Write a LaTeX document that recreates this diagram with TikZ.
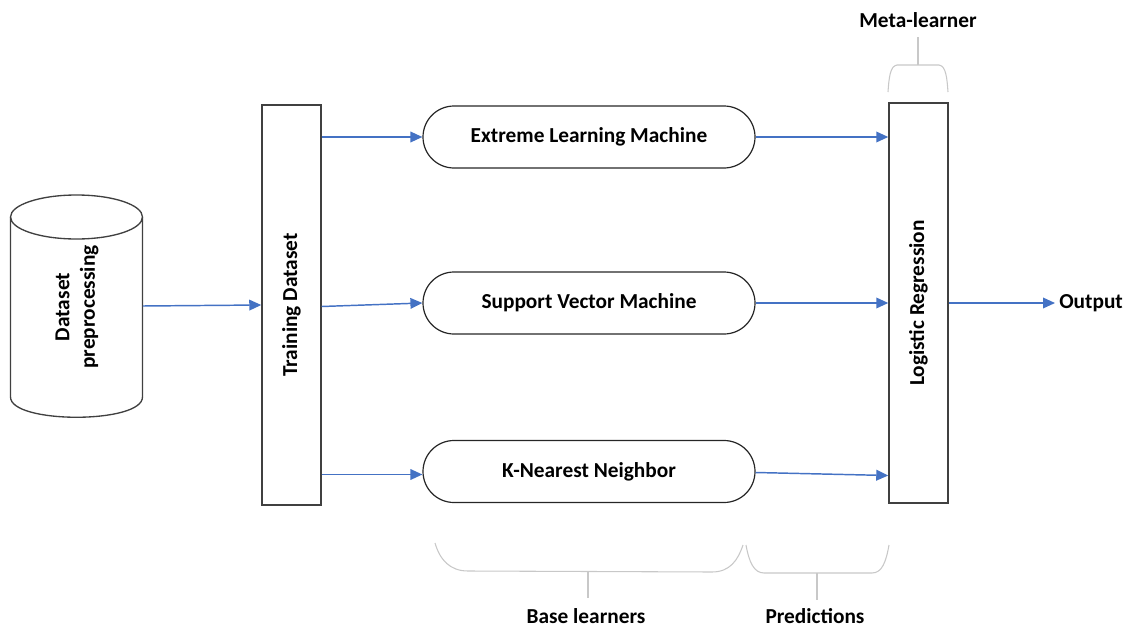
\documentclass[tikz,border=0pt]{standalone}
\usepackage{fontspec}
\setmainfont{Carlito}
\usetikzlibrary{arrows.meta,shapes.misc,calc}
\definecolor{flow}{HTML}{4472C4}
\definecolor{bracegray}{HTML}{C8C8C8}
\definecolor{edge}{HTML}{404040}
\begin{document}
\begin{tikzpicture}[x=0.75pt,y=-0.75pt,
  every node/.style={font=\fontsize{16}{19}\selectfont\bfseries, inner sep=0pt},
  tallbox/.style={draw=edge, line width=1.1pt, fill=white, minimum width=44.25pt, minimum height=300pt},
  learner/.style={draw=black!85, line width=0.9pt, rounded rectangle, minimum width=249pt, minimum height=46.5pt},
  flowarrow/.style={draw=flow, line width=1.1pt, -{Triangle[length=9pt,width=8pt]}},
  drum/.style={draw=edge, line width=1pt},
  bracket/.style={draw=bracegray, line width=0.8pt},
  caption/.style={text=black}]
\useasboundingbox (0,0) rectangle (1129,628);

% storage drum for the preprocessed data (node gives the anchors, paths give the outline)
\node (db) [minimum width=99pt, minimum height=166.5pt] at (76.5,306) {};
\draw[drum] (10.5,217) -- (10.5,397) .. controls (10.5,424) and (142.5,424) .. (142.5,397) -- (142.5,217);
\draw[drum] (76.5,217) ellipse[x radius=66, y radius=22];
\node[rotate=90, align=center] at (77,307) {Dataset\\preprocessing};

% training set and meta-learner columns
\node (tr) [tallbox] at (291.5,305) {};
\node[rotate=90] at (tr) {Training Dataset};
\node (lr) [tallbox] at (918.5,303) {};
\node[rotate=90] at (lr) {Logistic Regression};

% base learners
\node (elm) [learner] at (589,137) {Extreme Learning Machine};
\node (svm) [learner] at (589,303) {Support Vector Machine};
\node (knn) [learner] at (589,471.5) {K-Nearest Neighbor};

\node (out) [anchor=west] at (1059,303) {Output};

% data flow
\draw[flowarrow] (db.east) -- (tr.west);
\draw[flowarrow] (tr.east |- elm.west) -- (elm.west);
\draw[flowarrow] ($(tr.east)+(0,1.5)$) -- (svm.west);
\draw[flowarrow] ($(tr.east |- knn.west)+(0,3)$) -- ($(knn.west)+(0,3)$);
\draw[flowarrow] (elm.east) -- (lr.west |- elm.east);
\draw[flowarrow] (svm.east) -- (lr.west |- svm.east);
\draw[flowarrow] ($(knn.east)+(0,1)$) -- ($(lr.west |- knn.east)+(0,4)$);
\draw[flowarrow] (lr.east) -- ($(out.west)+(-4,0)$);

% group brackets
\coordinate (bl) at (588,598);
\coordinate (pr) at (817,600);
\coordinate (ml) at (918,37);
\draw[bracket] (435,543) .. controls (440,560) and (450,571) .. (468,571) -- (712,572)
  .. controls (730,572) and (738,560) .. (743,545);
\draw[bracket] (588,571.5) -- (bl);
\draw[bracket] (746,545) .. controls (749,562) and (754,573) .. (764,573) -- (872,573)
  .. controls (882,573) and (886,562) .. (889,545);
\draw[bracket] (817,573) -- (pr);
\draw[bracket] (888,92) .. controls (889,78) and (890,66) .. (897,65) -- (939,65)
  .. controls (946,66) and (947,78) .. (948,92);
\draw[bracket] (918,65) -- (ml);

\node[caption] at (586,616) {Base learners};
\node[caption] at (815,616) {Predictions};
\node[caption, anchor=south] at (ml) [yshift=7pt] {Meta-learner};
\end{tikzpicture}
\end{document}
